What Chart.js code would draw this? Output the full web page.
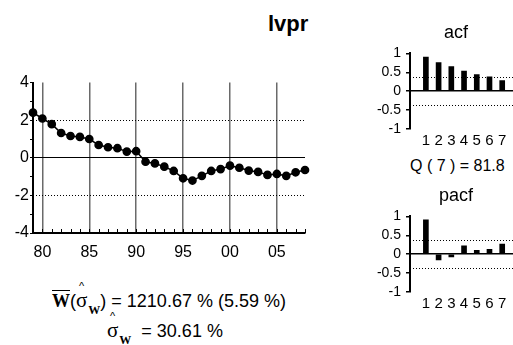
<!DOCTYPE html>
<html>
<head>
<meta charset="utf-8">
<script src="https://cdn.jsdelivr.net/npm/chart.js@4"></script>
<style>
  body { margin: 0; background: #fff; }
  #wrap { position: relative; width: 513px; height: 345px; overflow: hidden; font-family: "Liberation Sans", Arial, sans-serif; color: #000; }
  canvas { position: absolute; }
  .txt { position: absolute; white-space: nowrap; line-height: 1; }
  .serif { font-family: "Liberation Serif", "Times New Roman", serif; }
  .hat { position: relative; display: inline-block; }
  .hat i { position: absolute; left: 50%; top: -9px; font-style: normal; font-size: 11px; font-family: "Liberation Sans", Arial, sans-serif; transform: translateX(-50%); }
  .ov { text-decoration: overline; font-weight: bold; }
  .sub { font-weight: bold; font-size: 12px; position: relative; top: 7px; margin-left: 1px; }
</style>
</head>
<body>
<div id="wrap">
  <canvas id="main" width="315" height="190" style="left:0;top:72px"></canvas>
  <canvas id="acf" width="153" height="105" style="left:360px;top:40px"></canvas>
  <canvas id="pacf" width="153" height="105" style="left:360px;top:203px"></canvas>

  <div class="txt" style="left:268px;top:13px;font-size:22px;font-weight:bold">lvpr</div>
  <div class="txt" style="left:426px;top:23px;font-size:18px;width:60px;text-align:center">acf</div>
  <div class="txt" style="left:410px;top:158px;font-size:16px">Q ( 7 ) = 81.8</div>
  <div class="txt" style="left:426px;top:186px;font-size:18px;width:60px;text-align:center">pacf</div>

  <div class="txt" style="left:52px;top:290px;font-size:18px">
    <span class="serif ov" style="font-size:18px">W</span>(<span class="serif hat" style="font-size:21px">σ<i>^</i></span><span class="serif sub">W</span>)&nbsp;= 1210.67 % (5.59 %)
  </div>
  <div class="txt" style="left:107px;top:320px;font-size:18px">
    <span class="serif hat" style="font-size:21px">σ<i>^</i></span><span class="serif sub">W</span>&nbsp;&nbsp;= 30.61 %
  </div>
</div>
<script>
// ── data ──────────────────────────────────────────────────────────────────
const years = [1979, 1980, 1981, 1982, 1983, 1984, 1985, 1986, 1987, 1988,
               1989, 1990, 1991, 1992, 1993, 1994, 1995, 1996, 1997, 1998,
               1999, 2000, 2001, 2002, 2003, 2004, 2005, 2006, 2007, 2008];
const lvpr  = [2.40, 2.09, 1.79, 1.32, 1.16, 1.11, 1.00, 0.68, 0.56, 0.51,
               0.33, 0.35, -0.21, -0.30, -0.47, -0.70, -1.09, -1.21, -0.96, -0.70,
               -0.60, -0.42, -0.53, -0.68, -0.75, -0.91, -0.86, -0.96, -0.77, -0.65];
const xTickYears  = [1980, 1985, 1990, 1995, 2000, 2005];
const xTickLabels = ['80', '85', '90', '95', '00', '05'];
const yMinor      = [-4, -3, -2, -1, 0, 1, 2, 3, 4];
const yLabels     = [-4, -2, 0, 2, 4];
const mainBands   = [2, -2];

const lags       = [1, 2, 3, 4, 5, 6, 7];
const acfVals    = [0.90, 0.76, 0.65, 0.53, 0.44, 0.38, 0.28];
const pacfVals   = [0.91, -0.15, -0.07, 0.22, 0.10, 0.13, 0.27];
const corrTicks  = [-1, -0.5, 0, 0.5, 1];
const corrBand   = 0.365;

Chart.defaults.font.family = '"Liberation Sans", Arial, sans-serif';
Chart.defaults.font.size = 16;
Chart.defaults.color = '#000';
Chart.defaults.animation = false;

const clear = 'rgba(0,0,0,0)';

// dotted bands + inner minor ticks
const guides = {
  id: 'guides',
  beforeDatasetsDraw(chart, args, opts) {
    const { ctx, chartArea: a, scales } = chart;
    ctx.save();
    ctx.strokeStyle = '#000';
    ctx.lineWidth = 1;
    ctx.setLineDash([1, 2]);
    (opts.bands || []).forEach(v => {
      const y = Math.round(scales.y.getPixelForValue(v)) + 0.5;
      ctx.beginPath(); ctx.moveTo(a.left, y); ctx.lineTo(a.right, y); ctx.stroke();
    });
    ctx.setLineDash([]);
    if (opts.minorX) {
      scales.x.ticks.forEach(t => {
        const x = Math.round(scales.x.getPixelForValue(t.value)) + 0.5;
        ctx.beginPath(); ctx.moveTo(x, a.bottom); ctx.lineTo(x, a.bottom - 4); ctx.stroke();
      });
    }
    ctx.restore();
  }
};
Chart.register(guides);

// ── main series ───────────────────────────────────────────────────────────
new Chart(document.getElementById('main'), {
  type: 'line',
  data: {
    datasets: [{
      data: years.map((y, i) => ({ x: y, y: lvpr[i] })),
      borderColor: '#000', borderWidth: 1.5,
      pointRadius: 3.6, pointBackgroundColor: '#000', pointBorderColor: '#000',
      clip: false
    }]
  },
  options: {
    responsive: false,
    layout: { padding: { top: 10, right: 8 } },
    plugins: { legend: { display: false }, tooltip: { enabled: false },
               guides: { bands: mainBands, minorX: true } },
    scales: {
      x: { type: 'linear', min: 1979, max: 2008,
           afterBuildTicks: s => { s.ticks = years.map(v => ({ value: v })); },
           afterFit: s => { s.height = 29; },
           grid: { color: c => c.tick && xTickYears.includes(c.tick.value) ? '#6a6a6a' : clear,
                   lineWidth: 1.5, drawTicks: false },
           border: { color: '#000', width: 2 },
           ticks: { padding: 10, autoSkip: false, maxRotation: 0,
                    callback: v => { const i = xTickYears.indexOf(v); return i < 0 ? '' : xTickLabels[i]; } } },
      y: { min: -4, max: 4,
           afterBuildTicks: s => { s.ticks = yMinor.map(v => ({ value: v })); },
           afterFit: s => { s.width = 33; },
           grid: { color: c => c.tick && c.tick.value === 0 ? '#000' : clear,
                   tickColor: '#000', tickLength: 3, lineWidth: 1 },
           border: { color: '#000', width: 2 },
           ticks: { padding: 1, autoSkip: false,
                    callback: v => yLabels.includes(v) ? String(v) : '' } }
    }
  }
});

// ── acf / pacf ────────────────────────────────────────────────────────────
function renderCorrChart(canvasId, values) {
  new Chart(document.getElementById(canvasId), {
    type: 'bar',
    data: { datasets: [{ data: lags.map((l, i) => ({ x: l, y: values[i] })),
                         backgroundColor: '#000', barThickness: 5 }] },
    options: {
      responsive: false,
      layout: { padding: { top: 9 } },
      plugins: { legend: { display: false }, tooltip: { enabled: false },
                 guides: { bands: [corrBand, -corrBand] } },
      scales: {
        x: { type: 'linear', min: 0.33, max: 7.27,
             afterBuildTicks: s => { s.ticks = lags.map(v => ({ value: v })); },
             afterFit: s => { s.height = 16; },
             grid: { display: false, drawTicks: false }, border: { display: false },
             ticks: { padding: 3, autoSkip: false, maxRotation: 0, font: { size: 15 } } },
        y: { min: -1, max: 1,
             afterBuildTicks: s => { s.ticks = corrTicks.map(v => ({ value: v })); },
             afterFit: s => { s.width = 50; },
             grid: { color: c => c.tick && c.tick.value === 0 ? '#000' : clear,
                     lineWidth: 1.5, tickColor: '#000', tickLength: 4 },
             border: { color: '#000', width: 2 },
             ticks: { padding: 5, autoSkip: false, font: { size: 14 },
                      callback: v => String(v) } }
      }
    }
  });
}
renderCorrChart('acf', acfVals);
renderCorrChart('pacf', pacfVals);
</script>
</body>
</html>
